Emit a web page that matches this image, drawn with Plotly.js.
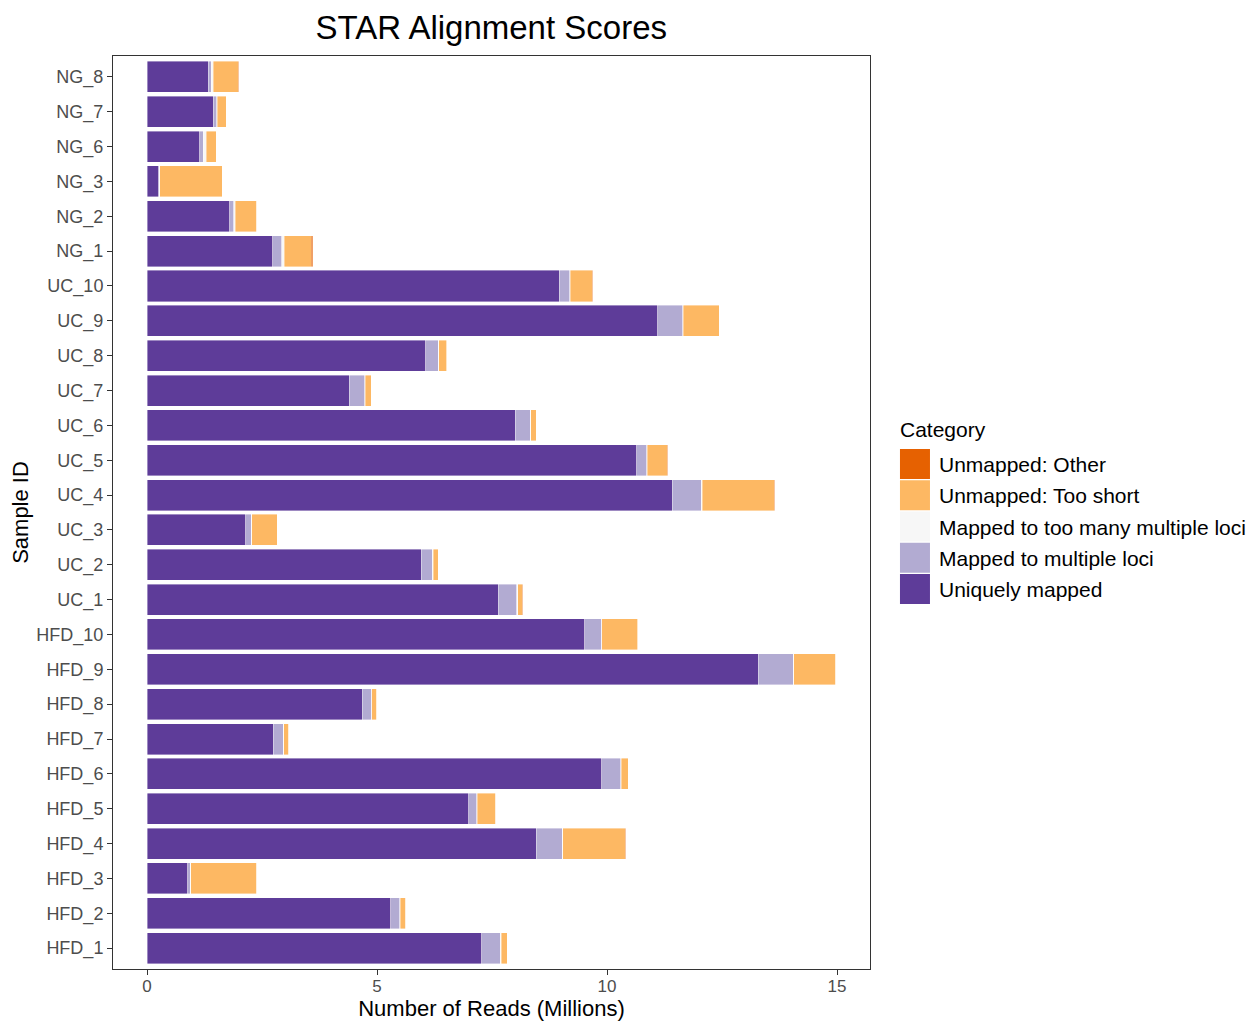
<!DOCTYPE html>
<html>
<head>
<meta charset="utf-8">
<script src="https://cdn.plot.ly/plotly-3.0.1.min.js"></script>
<style>html,body{margin:0;padding:0;background:#fff;}#chart{width:1258px;height:1021px;}</style>
</head>
<body>
<div id="chart"></div>
<script>
const samples = ["NG_8","NG_7","NG_6","NG_3","NG_2","NG_1","UC_10","UC_9","UC_8","UC_7","UC_6","UC_5","UC_4","UC_3","UC_2","UC_1","HFD_10","HFD_9","HFD_8","HFD_7","HFD_6","HFD_5","HFD_4","HFD_3","HFD_2","HFD_1"];
const uniquelyMapped = [1.33,1.44,1.15,0.25,1.80,2.73,8.96,11.10,6.06,4.40,8.00,10.65,11.42,2.15,5.96,7.64,9.52,13.29,4.68,2.74,9.89,6.99,8.46,0.89,5.30,7.28];
const multipleLoci   = [0.07,0.07,0.07,0.02,0.08,0.20,0.23,0.55,0.27,0.33,0.33,0.21,0.63,0.12,0.24,0.40,0.36,0.76,0.20,0.22,0.41,0.18,0.57,0.05,0.19,0.40];
const tooManyLoci    = [0.04,0.02,0.07,0.01,0.04,0.05,0.01,0.01,0.01,0.01,0.01,0.01,0.02,0.01,0.02,0.02,0.01,0.01,0.01,0.01,0.01,0.01,0.01,0.01,0.01,0.02];
const tooShort       = [0.54,0.19,0.21,1.35,0.46,0.59,0.48,0.78,0.18,0.13,0.12,0.44,1.56,0.55,0.11,0.10,0.78,0.91,0.10,0.11,0.15,0.40,1.36,1.43,0.12,0.13];
const unmappedOther  = [0.01,0.005,0.005,0.005,0.01,0.03,0.005,0.005,0.005,0.005,0.005,0.005,0.02,0.005,0.005,0.005,0.005,0.005,0.005,0.005,0.005,0.005,0.005,0.005,0.005,0.005];

const categoryNames = ["Uniquely mapped","Mapped to multiple loci","Mapped to too many multiple loci","Unmapped: Too short","Unmapped: Other"];
const categoryColors = ["#5e3c99","#b2abd2","#f7f7f7","#fdb863","#e66101"];
const seriesValues = [uniquelyMapped, multipleLoci, tooManyLoci, tooShort, unmappedOther];

const FONT = "Liberation Sans, Arial, sans-serif";

const traces = seriesValues.map((vals, i) => ({
  type: "bar",
  orientation: "h",
  name: categoryNames[i],
  legendgroup: "g" + i,
  legendrank: 1000 - i,
  x: vals,
  y: samples,
  marker: {color: categoryColors[i], line: {color: "rgba(255,255,255,0.8)", width: 0.5}},
  hoverinfo: "x+y+name"
}));

const layout = {
  width: 1258, height: 1021,
  margin: {l: 113, r: 388, t: 56, b: 52, autoexpand: false},
  paper_bgcolor: "#fff", plot_bgcolor: "#fff",
  barmode: "stack",
  bargap: 0.11,
  font: {family: FONT, color: "#000"},
  title: {text: "STAR Alignment Scores", font: {family: FONT, size: 33, color: "#000"},
          x: 0.3905, xanchor: "center", xref: "container", y: 0.9735, yanchor: "middle", yref: "container"},
  xaxis: {
    range: [-0.74, 15.717],
    tickvals: [0, 5, 10, 15],
    ticktext: ["0", "5", "10", "15"],
    ticks: "outside", ticklen: 5, tickwidth: 1, tickcolor: "#333",
    ticklabelstandoff: -3,
    tickfont: {family: FONT, size: 17, color: "#4d4d4d"},
    showgrid: false, zeroline: false,
    showline: true, linecolor: "#333", linewidth: 1, mirror: true,
    title: {text: "Number of Reads (Millions)", font: {family: FONT, size: 22, color: "#000"}, standoff: 13},
    fixedrange: true
  },
  yaxis: {
    type: "category",
    categoryorder: "array",
    categoryarray: samples.slice().reverse(),
    range: [-0.6, 25.6],
    ticks: "outside", ticklen: 5, tickwidth: 1, tickcolor: "#333",
    tickfont: {family: FONT, size: 18, color: "#4d4d4d"},
    showgrid: false, zeroline: false,
    showline: true, linecolor: "#333", linewidth: 1, mirror: true,
    title: {text: "Sample ID", font: {family: FONT, size: 22, color: "#000"}, standoff: 1},
    fixedrange: true
  },
  legend: {
    x: 1.0277, xanchor: "left", y: 0.6052, yanchor: "top",
    traceorder: "grouped",
    tracegroupgap: 1,
    itemwidth: 38,
    font: {family: FONT, size: 21, color: "#000"},
    title: {text: "Category", font: {family: FONT, size: 21, color: "#000"}},
    bgcolor: "rgba(0,0,0,0)"
  },
  showlegend: true
};

function enlargeSwatches() {
  document.querySelectorAll("#chart .legend .legendpoints path").forEach(p => {
    p.setAttribute("d", "M15,15H-15V-15H15Z");
    p.style.strokeWidth = "0";
  });
  const t = document.querySelector("#chart .legend .legendtitletext");
  if (t) t.setAttribute("transform", "translate(7,-7)");
}

Plotly.newPlot("chart", traces, layout, {displayModeBar: false}).then(gd => {
  enlargeSwatches();
  gd.on("plotly_afterplot", enlargeSwatches);
});
</script>
</body>
</html>
